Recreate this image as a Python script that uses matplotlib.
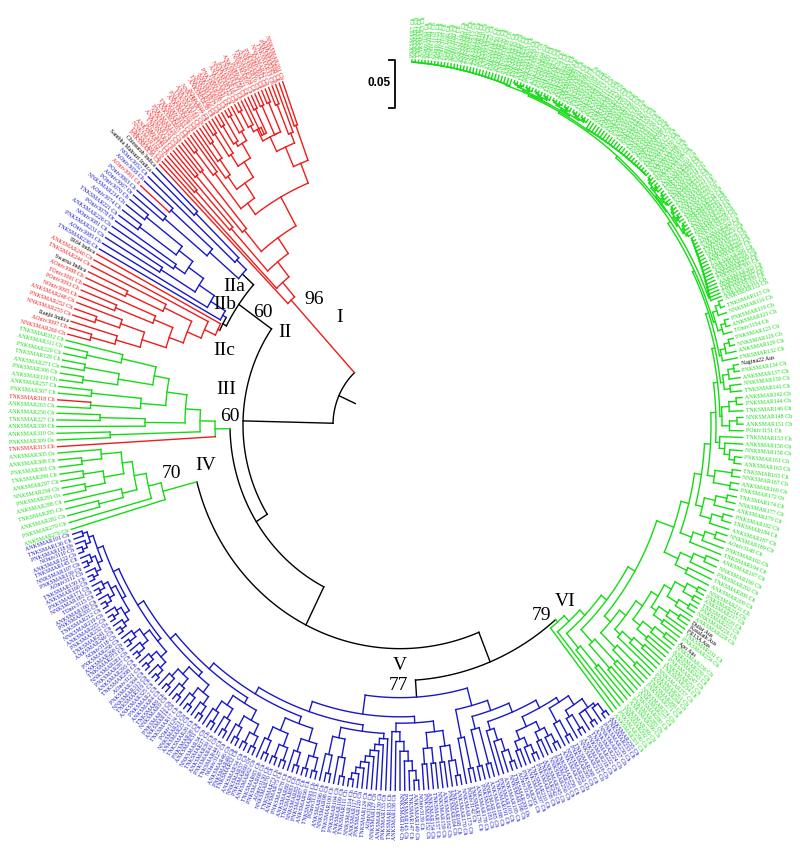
import re
import numpy as np
import matplotlib
matplotlib.use('Agg')
import matplotlib.pyplot as plt
from matplotlib.collections import LineCollection

RED = '#ee1c1c'
BLUE = '#1818c8'
GREEN = '#14dc14'
YS = 852 / 800      # the picture is stretched vertically
R_TIP = 343

# leaf labels, counter-clockwise, clade by clade
I_LABELS = """N201 A88 P145 T33 N42 AO3011 P67 A19 T204 N97
PO3021 A156 T71 P18 N123 A47 TO3041 P208 A92 N15
T166 A38 PO3016 N77 A141 T59 P102 A24 NO3033 T187
A63 P129 N51 A174 T8 PO3048 A112 N196 T95 P36""".split()
IIA_LABELS = ['Chinsurah Indica', 'Sambha Mahsuri Indica', 'NO3052', 'AO3058',
              'AO3061', 'PO3063', 'AO3067r']
IIB_LABELS = "PO3070 N214 AO3074 T221 PO3078r A226 NO3081 P231 AO3085 T236".split()
IIC_LABELS = ['IR64 Indica', 'A240', 'T244', 'Swarna Indica', 'AO3088', 'TO3091',
              'PO3093', 'NO3095', 'A248', 'P252', 'N255', 'Ranjit Indica', 'AO3097', 'N260']
III_LABELS = "T312 A311 P229 T128 A271 P306 A116 A257 P307 T318 A263 A256 T227 A330 A310s P309s T315".split()
IV_LABELS = "A305s A308 P301 T299 A297 N294 P291s A288 T285 A282 P279 A276".split()
V_LABELS = """A101 T136 P118s NO3110 A122 T145 N107 P139 AO3112 T150
A160 P171 N183 TO3115 A190 P203 T212 N219 A225 P232s
T241 A249 NO3118 P258 A266 T273 N281 P287 A293 T298
AO3121 P304 N313 T319 A325 P2 A4 T6 N9 P12
A14 T17 PO3124 N21 A23 T26 P28 A31 N34 T37
A39 P41 T44 NO3127 A46 P49 T52 A54 N57 P60r
A62 T65 P68 AO3130 N70 T73 A75 P78 A80 T83
N85 P87 A90 T93 PO3133 A96 N98 T100 P104 A109
T111 N114 A117 P120 T124 AO3136 N127 A130 P133 T135
A138 N140 P143 T147 A149 NO3139 P152 A154 T157 N159
A162 P164 T168 A170 N173 PO3142 T176 A178 P181 N185
A188 T191 P193 A195 N198 T200s AO3145 P205 A207 T210
P238 T242 A245 N250 P253 T256 A259 N262 P265 T268
N213 A216 P218 T222 A224 N227 P230 T233 A235""".split()
VIA_LABELS = ("A301 P296 T292 N289 A286 P283s T280 A277 N274 P271 "
              "T269 A264 P261 N257 T254 A251 P247 T243 A239 N236".split()
              + ['Apo Aus', 'P234', 'T231', 'FR13A Aus', 'Kasalath Aus', 'Dular Aus']
              + "A228 N226 P223 T220 A217 P214 N211".split())
VIB1_LABELS = ("A209 T206 P202 N199 A197 T194 P192 AO3148 N189 A187 "
               "T184 P182 A179 N177 T174 P172r A169 N167 T165 A163 "
               "P161 N158 A156 T153 PO3151 A151 N148 T146 P144 A142 "
               "T141 N139 A137 P134".split()
               + ['Nagina22 Aus']
               + "T132 A129 N126 P123 TO3154 A121 P119 N116 T113 A112".split())
VIB2_LABELS = """A311 P309 T307 N305 A303 P300 T297 A295 N291 P288
T285 A282 P279 N276 T272 A270 P267 T263 A260 N256
P252 T248 A244 N240 P237 T234 A232 P229r N226 T223
A221 P219 T217 N214 A212 P208 T205 A201 N197 P194
T190 A186 P184 N180 T177 A175 P171 T168 A165 N161
P158 T155 A153 N150 P147 T143 A141 P138 N136 T133
A131 P128 T126 N123 A120 P117 T115 A113 N110 P107
T105 A102 P99 N96 T94 A91 P88 T86 A83 N81
P79 T76 A74 N71 P69 T66 A64 P61 N59 T56
A53 P51 T48 N45 A43 P40 T38 A35 N33 P30
T27 A25 P22 N20 T18 A15 P13 T10 A8 N5
PO3157 AO3160 NO3163 TO3166 PO3169 AO3172 NO3175 TO3178 AO3181 PO3184
A3 T2 N1 P7""".split()

LEAF_GROUPS = [I_LABELS, IIA_LABELS, IIB_LABELS, IIC_LABELS, III_LABELS, IV_LABELS,
               V_LABELS, VIA_LABELS, VIB1_LABELS, VIB2_LABELS]
GROUP_COLORS = [RED, BLUE, BLUE, RED, GREEN, GREEN, BLUE, GREEN, GREEN, GREEN]
RED_LEAVES = {1: [4], 4: [9, 16]}     # red isolates inside blue / green groups

# angular sector (degrees) of every leaf group
SECTORS = [(110.0, 134.5), (135.3, 141.0), (141.9, 151.2), (152.1, 165.6),
           (166.6, 183.4), (184.4, 196.6), (197.4, 307.5), (308.3, 333.0),
           (334.0, 380.0), (380.6, 448.0)]

NODE_TEXT = [('I', -60, 100.5), ('96', -85.5, 117.7), ('II', -115, 86.9),
             ('60', -137.5, 106.1), ('IIa', -165.3, 130.2), ('IIb', -175, 113.6),
             ('IIc', -176, 70.4), ('III', -174, 32.9), ('60', -169.7, 7.8),
             ('IV', -194.5, -38), ('70', -228.3, -46), ('V', 0, -225.8),
             ('77', -1.2, -244.4), ('VI', 164.7, -165.5), ('79', 141.3, -179.2)]


def expand(code):
    if ' ' in code:
        return code
    p, o, num, suf = re.match(r'([ANPT])(O?)(\d+)([rs]?)$', code).groups()
    body = p + ('Oniv' if o else 'NKSMAR') + num
    return body + {'r': ' Or', 's': ' Os', '': ' Ch'}[suf]


def leaf():
    return {'kids': None}


def node(r, *kids, col=None):
    return {'r': r, 'kids': list(kids), 'col': col}


def lad(side, radii, parts):
    # ladder: parts[i] hangs off the node at radii[i], last part ends it
    sub = parts[-1]
    for r, p in zip(reversed(list(radii)), reversed(parts[:-1])):
        sub = node(r, p, sub) if side == 'lo' else node(r, sub, p)
    return sub


def comb(n, r0, r1, side='lo'):
    if n == 1:
        return leaf()
    return lad(side, np.linspace(r0, r1, n - 1), [leaf() for _ in range(n)])


def bal(n, r0, r1):
    if n == 1:
        return leaf()
    depth = int(np.ceil(np.log2(n)))
    step = (r1 - r0) / max(depth - 1, 1)

    def build(m, lev):
        if m == 1:
            return leaf()
        h = m // 2
        return node(r0 + lev * step, build(h, lev + 1), build(m - h, lev + 1))
    return build(n, 0)


def paint(t, col):
    if t['kids'] is None:
        return
    if t['col'] is None:
        t['col'] = col
    for k in t['kids']:
        paint(k, col)


def make_tree():
    c1 = lad('hi', [160, 178, 196, 214], [
        leaf(), leaf(), bal(3, 250, 300), bal(4, 240, 310),
        node(245,
             lad('lo', [265, 285, 300, 312],
                 [bal(2, 300, 320), comb(3, 295, 325), bal(4, 300, 330),
                  comb(3, 305, 330, 'hi'), bal(3, 318, 335)]),
             lad('hi', [258, 275, 292, 308],
                 [bal(3, 300, 328), comb(4, 290, 325, 'hi'), bal(3, 305, 330),
                  comb(3, 312, 332), bal(3, 318, 336)]))])
    c2a = node(212, node(225, node(285, leaf(), leaf()), leaf()), bal(4, 250, 305))
    c2a['stemcol'] = 'black'
    c2b = lad('hi', [205, 222, 240, 258],
              [leaf(), leaf(), bal(2, 280, 300), bal(2, 270, 310), bal(4, 275, 320)])
    c2c = lad('lo', [203, 215, 230, 245],
              [leaf(), leaf(), bal(3, 260, 300), bal(3, 265, 305), bal(6, 270, 320)])
    c3 = lad('hi', [185, 200, 215, 235],
             [leaf(), bal(2, 290, 300), comb(3, 255, 300, 'hi'), bal(4, 260, 310),
              bal(7, 250, 320)])
    c4 = lad('hi', [245, 258, 270],
             [leaf(), leaf(), bal(3, 285, 310), bal(7, 280, 320)])
    v1 = lad('hi', [274, 284, 291, 298, 305, 312, 318], [
        node(280, comb(7, 288, 334), bal(9, 290, 334)),
        node(290, bal(6, 300, 335), comb(9, 295, 336, 'hi')),
        bal(14, 298, 336), bal(13, 304, 336), bal(12, 310, 337),
        bal(12, 316, 338), bal(12, 322, 338), bal(11, 324, 338)])
    v2 = lad('lo', [273, 283, 292], [
        bal(3, 300, 330), bal(4, 295, 330), comb(5, 300, 335),
        node(300, bal(10, 310, 336),
             lad('lo', [305, 315, 325], [bal(3, 320, 336), bal(3, 322, 337),
                                         bal(3, 325, 338), bal(3, 328, 338)]))])
    c5 = node(256, v1, v2)
    c5['stemcol'] = 'black'
    via = lad('lo', [280, 288, 296, 304],
              [bal(3, 300, 325), comb(4, 295, 320), bal(5, 305, 330),
               bal(5, 310, 332), bal(7, 312, 335)])
    vib2 = lad('lo', [329, 331, 333, 334.5, 336],
               [comb(20, 332, 340), bal(22, 334, 340), comb(24, 335, 340, 'hi'),
                bal(26, 336, 341), comb(32, 337, 341)])
    vib = lad('lo', [290, 298, 305, 311, 316, 320, 323, 326, 328],
              [bal(5, 305, 330), comb(4, 310, 332), bal(6, 312, 334), bal(4, 318, 335),
               comb(5, 320, 336, 'hi'), bal(6, 322, 337), bal(5, 326, 338),
               comb(4, 328, 338), bal(6, 330, 339), vib2])
    c6 = lad('lo', [243, 250, 257, 264],
             [leaf(), leaf(), comb(3, 275, 300), bal(4, 280, 310), node(272, via, vib)])

    for t, col in [(c1, RED), (c2a, BLUE), (c2b, BLUE), (c2c, RED), (c3, GREEN),
                   (c4, GREEN), (c5, BLUE), (c6, GREEN)]:
        paint(t, col)

    k = 'black'
    c2 = node(197, c2a, node(201, c2b, c2c, col=k), col=k)
    d = node(240, c5, c6, col=k)
    c = node(210, c4, d, col=k)
    b = node(170, c3, c, col=k)
    a = node(157, c2, b, col=k)
    return node(67, c1, a, col=k)


def collect(t, out):
    if t['kids'] is None:
        out.append(t)
    else:
        for k in t['kids']:
            collect(k, out)
    return out


def place(t):
    if t['kids'] is not None:
        for k in t['kids']:
            place(k)
        t['a'] = (t['kids'][0]['a'] + t['kids'][-1]['a']) / 2


def xy(r, a):
    th = np.radians(a)
    return r * np.cos(th), r * np.sin(th)


def draw(t, segs, cols):
    if t['kids'] is None:
        return
    a0, a1 = t['kids'][0]['a'], t['kids'][-1]['a']
    th = np.linspace(a0, a1, int(abs(a1 - a0) / 0.4) + 2)
    x, y = xy(t['r'], th)
    segs.append(np.column_stack([x, y]))
    cols.append(t['col'])
    for k in t['kids']:
        segs.append([xy(t['r'], k['a']), xy(k['r'], k['a'])])
        cols.append(k.get('stemcol', k['col']))
        draw(k, segs, cols)


root = make_tree()
leaves = collect(root, [])
assert len(leaves) == sum(len(g) for g in LEAF_GROUPS), (len(leaves), [len(g) for g in LEAF_GROUPS])

i = 0
for gi, (labs, (s0, s1)) in enumerate(zip(LEAF_GROUPS, SECTORS)):
    angs = np.linspace(s0, s1, len(labs))
    for j, (code, ang) in enumerate(zip(labs, angs)):
        lf = leaves[i]
        lf['a'], lf['r'] = ang, R_TIP
        lf['name'] = expand(code)
        gcol = GROUP_COLORS[gi]
        if ' ' in code:
            lf['lcol'], lf['col'] = 'black', gcol
        elif j in RED_LEAVES.get(gi, []):
            lf['lcol'] = lf['col'] = RED
        else:
            lf['lcol'] = lf['col'] = gcol
        i += 1
place(root)

fig = plt.figure(figsize=(8, 8.52), dpi=100)
ax = fig.add_axes([0, 0, 1, 1])
ax.set_xlim(-400, 400)
ax.set_ylim((425 - 852) / YS, 425 / YS)
ax.axis('off')

segs, cols = [], []
# short stub below the root
segs.append([xy(49, root['a']), xy(root['r'], root['a'])])
cols.append('black')
draw(root, segs, cols)
ax.add_collection(LineCollection(segs, colors=cols, linewidths=1.0, capstyle='projecting'))

for lf in leaves:
    th = np.radians(lf['a'])
    x, y = xy(R_TIP + 3, lf['a'])
    phi = np.degrees(np.arctan2(np.sin(th) * YS, np.cos(th)))
    if np.cos(th) >= 0:
        rot, ha = phi, 'left'
    else:
        rot, ha = phi + 180, 'right'
    ax.text(x, y, lf['name'], rotation=rot, ha=ha, va='center', rotation_mode='anchor',
            fontsize=4.2, family='Liberation Serif', color=lf['lcol'])

for txt, x, y in NODE_TEXT:
    ax.text(x, y, txt, ha='center', va='center', fontsize=14, family='Liberation Serif')

# scale bar
ax.plot([-11, -5, -5, -11], [343, 343, 297.7, 297.7], color='black', lw=1.3)
ax.text(-9, 321, '0.05', ha='right', va='center', fontsize=8.5, fontweight='bold',
        family='Liberation Sans')

fig.savefig('out.png', dpi=100, facecolor='white')
